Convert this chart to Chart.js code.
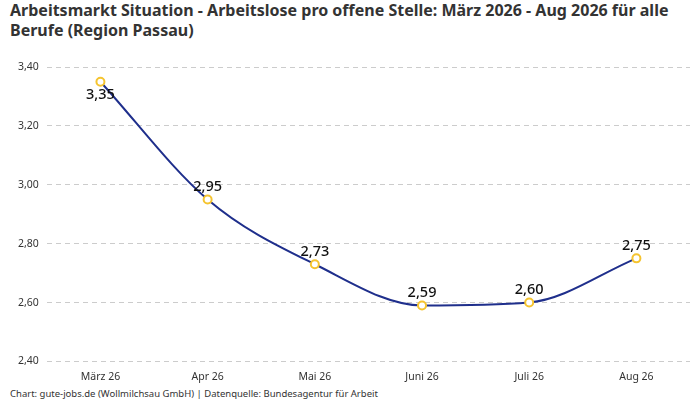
<!DOCTYPE html>
<html><head><meta charset="utf-8">
<script src="https://cdn.jsdelivr.net/npm/chart.js@4"></script>
<style>body{margin:0;background:#fff;font-family:"Noto Sans",sans-serif}
#t{position:absolute;left:10px;top:0px;width:680px;font-weight:bold;font-size:16px;line-height:20px;color:#333}
#f{position:absolute;left:10px;top:387px;font-size:9.5px;color:#333}
#c{position:absolute;left:0;top:50px}</style></head><body>
<div id="t">Arbeitsmarkt Situation - Arbeitslose pro offene Stelle: März 2026 - Aug 2026 für alle Berufe (Region Passau)</div>
<div id="f">Chart: gute-jobs.de (Wollmilchsau GmbH) | Datenquelle: Bundesagentur für Arbeit</div>
<div id="c" style="width:700px;height:334px"><canvas id="cv"></canvas></div>
<script>
const categories=["März 26","Apr 26","Mai 26","Juni 26","Juli 26","Aug 26"];
const values=[3.35,2.95,2.73,2.59,2.60,2.75];
const fmt=v=>v.toFixed(2).replace('.',',');
const labelPlugin={id:'lbl',afterDatasetsDraw(ch){const ctx=ch.ctx;const m=ch.getDatasetMeta(0);ctx.save();ctx.font='500 14.5px "Noto Sans"';ctx.fillStyle='#111';ctx.textAlign='center';
m.data.forEach((p,i)=>{if(i===0){ctx.textBaseline='top';ctx.fillText(fmt(values[i]),p.x,p.y+6);}else{ctx.textBaseline='bottom';ctx.fillText(fmt(values[i]),p.x,p.y-5);}});ctx.restore();}};
new Chart(document.getElementById('cv'),{type:'line',data:{labels:categories,datasets:[{data:values,borderColor:'#1f2f8c',borderWidth:2,cubicInterpolationMode:'monotone',pointRadius:4,pointBorderWidth:2,pointBorderColor:'#f5c430',pointBackgroundColor:'#fff'}]},
options:{responsive:true,maintainAspectRatio:false,animation:false,layout:{padding:{right:10,left:10,top:17}},plugins:{legend:{display:false},tooltip:{enabled:false}},
scales:{x:{offset:true,grid:{display:false},border:{display:false},ticks:{color:'#333',font:{size:10.5,family:'Noto Sans'},padding:1}},
y:{min:2.4,max:3.4,ticks:{stepSize:0.2,color:'#333',font:{size:10.5,family:'Noto Sans'},callback:v=>fmt(v),padding:8},border:{display:false,dash:[5,4]},grid:{color:'#ccc',drawTicks:false}}}},plugins:[labelPlugin]});
</script></body></html>
